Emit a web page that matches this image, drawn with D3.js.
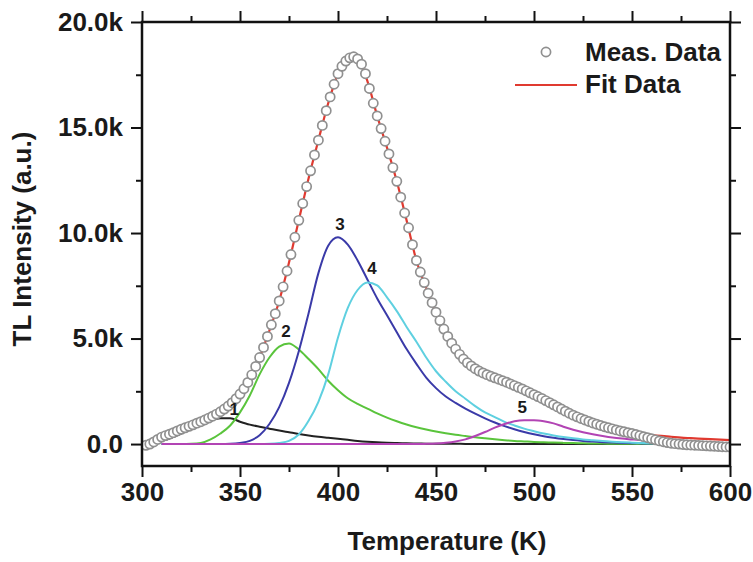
<!DOCTYPE html>
<html>
<head>
<meta charset="utf-8">
<script src="https://cdn.jsdelivr.net/npm/d3@7"></script>
<style>
  body { margin: 0; background: #fff; }
  svg text { font-family: "Liberation Sans", Arial, sans-serif; font-weight: bold; fill: #1a1a1a; }
</style>
</head>
<body>
<div id="chart"></div>
<script>
// measured TL glow curve (2 K steps)
const measTemp = [302,304,306,308,310,312,314,316,318,320,322,324,326,328,330,332,334,336,338,340,
  342,344,346,348,350,352,354,356,358,360,362,364,366,368,370,372,374,376,378,380,
  382,384,386,388,390,392,394,396,398,400,402,404,406,408,410,412,414,416,418,420,
  422,424,426,428,430,432,434,436,438,440,442,444,446,448,450,452,454,456,458,460,
  462,464,466,468,470,472,474,476,478,480,482,484,486,488,490,492,494,496,498,500,
  502,504,506,508,510,512,514,516,518,520,522,524,526,528,530,532,534,536,538,540,
  542,544,546,548,550,552,554,556,558,560,562,564,566,568,570,572,574,576,578,580,
  582,584,586,588,590,592,594,596,598,600]
const measData = [-60,0,100,220,330,400,470,540,620,700,770,840,910,990,1060,1140,1230,1320,1420,1530,
  1660,1800,1960,2150,2370,2620,2920,3280,3680,4100,4580,5100,5650,6180,6780,7450,8200,8980,9800,10600,
  11400,12200,12950,13700,14400,15100,15800,16450,17050,17550,17900,18150,18300,18350,18250,18000,17550,16850,16150,15550,
  14950,14350,13750,13100,12450,11700,10950,10250,9450,8700,8150,7650,7150,6700,6250,5850,5450,5100,4780,4500,
  4250,4030,3850,3700,3570,3460,3370,3290,3210,3140,3070,3000,2930,2850,2770,2690,2610,2520,2430,2340,
  2250,2160,2060,1960,1860,1760,1660,1560,1460,1370,1290,1210,1140,1070,1000,940,880,820,770,720,
  670,620,580,540,500,450,400,350,300,250,200,150,110,70,40,20,0,-20,-35,-45,
  -55,-65,-75,-85,-95,-105,-115,-125,-135,-140]

// fit curve (5 K steps)
const fitTemp = [305,310,315,320,325,330,335,340,345,350,355,360,365,370,375,380,385,390,395,400,
  405,410,415,420,425,430,435,440,445,450,455,460,465,470,475,480,485,490,495,500,
  505,510,515,520,525,530,535,540,545,550,555,560,565,570,575,580,590,600]
const fitData = [50,330,500,700,880,1060,1270,1530,1880,2370,3100,4100,5380,6780,8600,10600,12600,14400,16150,17550,
  18250,18250,17200,15550,14050,12450,10600,8700,7400,6250,5280,4500,3940,3570,3330,3140,2965,2770,2565,2340,
  2110,1860,1610,1370,1175,1000,850,720,600,510,460,420,385,345,305,280,230,190]

// deconvoluted peaks (5 K steps)
const peakTemp = [310,315,320,325,330,335,340,345,350,355,360,365,370,375,380,385,390,395,400,405,
  410,415,420,425,430,435,440,445,450,455,460,465,470,475,480,485,490,495,500,505,
  510,515,520,525,530,535,540,545,550,555,560,565,570,575,580,585,590,595,600]
const peak1 = [150,300,500,720,930,1120,1220,1220,1060,920,820,730,640,560,480,410,350,300,250,200,
  150,110,80,60,45,35,25,20,15,12,10,8,6,5,4,3,2,2,1,1,
  0,0,0,0,0,0,0,0,0,0,0,0,0,0,0,0,0,0,0]
const peak2 = [0,0,0,10,50,220,500,880,1500,2300,3300,4100,4620,4770,4480,4030,3550,3000,2550,2170,
  1900,1680,1450,1250,1080,930,800,690,590,510,440,380,320,270,225,185,150,125,100,85,
  70,55,45,35,28,22,18,14,10,7,5,3,1,0,0,0,0,0,0]
const peak3 = [0,0,0,0,0,0,0,10,50,150,420,950,1750,2900,4400,6200,8100,9400,9800,9450,
  8700,7800,6900,6100,5300,4500,3800,3150,2650,2250,1950,1680,1440,1220,1020,850,700,570,460,370,
  300,240,190,150,115,90,70,55,42,32,24,17,12,8,5,3,1,0,0]
const peak4 = [0,0,0,0,0,0,0,0,0,0,0,10,50,150,450,1100,2000,3300,5050,6450,
  7300,7660,7520,6950,6300,5550,4850,4100,3450,2950,2500,2150,1800,1500,1280,1050,880,730,610,500,
  410,330,270,220,180,140,110,85,65,50,38,28,20,14,9,6,4,2,0]
const peak5 = [0,0,0,0,0,0,0,0,0,0,0,0,0,0,0,0,0,0,0,0,
  0,0,0,0,0,0,0,10,25,60,120,220,380,570,780,950,1080,1130,1130,1080,
  980,820,680,560,460,380,310,260,220,180,145,110,80,60,40,30,20,15,10]

const peakNames = ['1', '2', '3', '4', '5']
const peakColors = ['#222222', '#5ac43c', '#3a3aa8', '#5fd0e0', '#b244b4']
const peakLabelTemp = [347, 373.5, 401, 417.3, 494]
const peakLabelValue = [1370, 5060, 10120, 8040, 1470]

const xTicks = [300, 350, 400, 450, 500, 550, 600]
const xMinor = [325, 375, 425, 475, 525, 575]
const yTicks = [0, 5000, 10000, 15000, 20000]
const yTickLabels = ['0.0', '5.0k', '10.0k', '15.0k', '20.0k']
const yMinor = [2500, 7500, 12500, 17500]

const width = 753, height = 562
const margin = {left: 142, right: 23, top: 22, bottom: 96}

const svg = d3.select('#chart').append('svg')
    .attr('width', width)
    .attr('height', height)

const x = d3.scaleLinear().domain([300, 600]).range([margin.left, width - margin.right])
const y = d3.scaleLinear().domain([-1040, 20000]).range([height - margin.bottom, margin.top])

// axes: major + minor ticks on all four sides, pointing outward
const axisStyle = g => {
    g.select('.domain').remove()
    g.selectAll('line').attr('stroke', '#111').attr('stroke-width', 2)
    g.selectAll('text').style('font-size', '26px')
}

svg.append('g')
    .attr('transform', `translate(0,${y(-1040)})`)
    .call(d3.axisBottom(x).tickValues(xTicks).tickSize(11).tickPadding(6).tickFormat(d3.format('d')))
    .call(axisStyle)
svg.append('g')
    .attr('transform', `translate(0,${y(-1040)})`)
    .call(d3.axisBottom(x).tickValues(xMinor).tickSize(6).tickFormat(''))
    .call(axisStyle)
svg.append('g')
    .attr('transform', `translate(0,${y(20000)})`)
    .call(d3.axisTop(x).tickValues(xTicks).tickSize(11).tickFormat(''))
    .call(axisStyle)
svg.append('g')
    .attr('transform', `translate(0,${y(20000)})`)
    .call(d3.axisTop(x).tickValues(xMinor).tickSize(6).tickFormat(''))
    .call(axisStyle)

svg.append('g')
    .attr('transform', `translate(${x(300)},0)`)
    .call(d3.axisLeft(y).tickValues(yTicks).tickSize(11).tickPadding(8).tickFormat((d, i) => yTickLabels[i]))
    .call(axisStyle)
svg.append('g')
    .attr('transform', `translate(${x(300)},0)`)
    .call(d3.axisLeft(y).tickValues(yMinor).tickSize(6).tickFormat(''))
    .call(axisStyle)
svg.append('g')
    .attr('transform', `translate(${x(600)},0)`)
    .call(d3.axisRight(y).tickValues(yTicks).tickSize(11).tickFormat(''))
    .call(axisStyle)
svg.append('g')
    .attr('transform', `translate(${x(600)},0)`)
    .call(d3.axisRight(y).tickValues(yMinor).tickSize(6).tickFormat(''))
    .call(axisStyle)

// clip to the frame
svg.append('clipPath').attr('id', 'plotClip')
    .append('rect')
    .attr('x', x(300)).attr('y', y(20000))
    .attr('width', x(600) - x(300)).attr('height', y(-1040) - y(20000))

const plot = svg.append('g').attr('clip-path', 'url(#plotClip)')

// peak components
const peaks = [peak1, peak2, peak3, peak4, peak5]
const compLine = d3.line()
    .x(d => x(d[0]))
    .y(d => y(d[1]))
    .curve(d3.curveMonotoneX)

peaks.forEach((vals, i) => {
    plot.append('path')
        .datum(peakTemp.map((t, j) => [t, vals[j]]))
        .attr('d', compLine)
        .attr('fill', 'none')
        .attr('stroke', peakColors[i])
        .attr('stroke-width', 2)
})

// fit line
plot.append('path')
    .datum(fitTemp.map((t, j) => [t, fitData[j]]))
    .attr('d', compLine)
    .attr('fill', 'none')
    .attr('stroke', '#e03a30')
    .attr('stroke-width', 2.2)

// measured points
plot.selectAll('circle.meas')
    .data(measTemp.map((t, j) => [t, measData[j]]))
    .join('circle')
    .attr('class', 'meas')
    .attr('cx', d => x(d[0]))
    .attr('cy', d => y(d[1]))
    .attr('r', 4.6)
    .attr('fill', '#fff')
    .attr('stroke', '#909090')
    .attr('stroke-width', 1.7)

// frame
svg.append('rect')
    .attr('x', x(300)).attr('y', y(20000))
    .attr('width', x(600) - x(300)).attr('height', y(-1040) - y(20000))
    .attr('fill', 'none')
    .attr('stroke', '#111')
    .attr('stroke-width', 2.5)

// peak numbers
svg.selectAll('text.peakLabel')
    .data(peakNames)
    .join('text')
    .attr('class', 'peakLabel')
    .attr('x', (d, i) => x(peakLabelTemp[i]))
    .attr('y', (d, i) => y(peakLabelValue[i]))
    .attr('text-anchor', 'middle')
    .style('font-size', '17px')
    .text(d => d)

// legend
svg.append('circle')
    .attr('cx', 546).attr('cy', 52).attr('r', 4.6)
    .attr('fill', '#fff').attr('stroke', '#909090').attr('stroke-width', 1.7)
svg.append('text')
    .attr('x', 585).attr('y', 61)
    .style('font-size', '26px')
    .text('Meas. Data')
svg.append('line')
    .attr('x1', 515).attr('x2', 577).attr('y1', 85).attr('y2', 85)
    .attr('stroke', '#e03a30').attr('stroke-width', 2.2)
svg.append('text')
    .attr('x', 585).attr('y', 93)
    .style('font-size', '26px')
    .text('Fit Data')

// axis titles
svg.append('text')
    .attr('x', (x(300) + x(600)) / 2 + 11)
    .attr('y', 550)
    .attr('text-anchor', 'middle')
    .style('font-size', '26px')
    .text('Temperature (K)')
svg.append('text')
    .attr('transform', `translate(31,239) rotate(-90)`)
    .attr('text-anchor', 'middle')
    .style('font-size', '26px')
    .text('TL Intensity (a.u.)')
</script>
</body>
</html>
